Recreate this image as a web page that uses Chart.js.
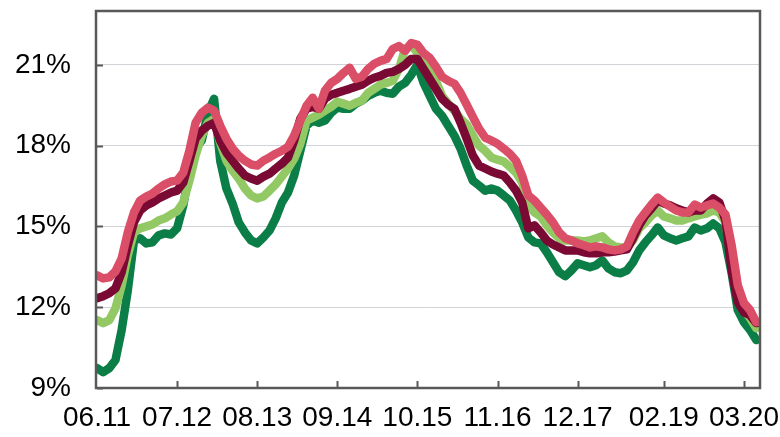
<!DOCTYPE html>
<html>
<head>
<meta charset="utf-8">
<script src="https://cdn.jsdelivr.net/npm/chart.js@4"></script>
<style>
  body { margin: 0; background: #fff; }
  #wrap { width: 780px; height: 437px; }
</style>
</head>
<body>
<div id="wrap"><canvas id="chart" width="780" height="437"></canvas></div>
<script>
// monthly points, June 2011 onwards
const months = [];
for (let i = 0; i < 108; i++) {
    const m = (5 + i) % 12 + 1;
    const y = 11 + Math.floor((5 + i) / 12);
    months.push(String(m).padStart(2, '0') + '.' + y);
}

const tickMonths = ['06.11', '07.12', '08.13', '09.14', '10.15', '11.16', '12.17', '02.19', '03.20'];
const yTicks = [9, 12, 15, 18, 21];

const pink = [
    13.19, 13.07, 13.11, 13.33, 13.81, 14.78, 15.52, 15.96, 16.11, 16.22,
    16.41, 16.56, 16.67, 16.70, 17.00, 17.81, 18.85, 19.22, 19.41, 19.30,
    18.74, 18.26, 17.89, 17.63, 17.44, 17.30, 17.26, 17.44, 17.56, 17.70,
    17.81, 17.96, 18.37, 18.93, 19.48, 19.78, 19.37, 20.04, 20.33, 20.48,
    20.70, 20.89, 20.48, 20.56, 20.85, 21.04, 21.15, 21.22, 21.59, 21.70,
    21.52, 21.81, 21.74, 21.44, 21.26, 20.93, 20.56, 20.41, 20.30, 19.96,
    19.52, 19.07, 18.63, 18.30, 18.19, 18.07, 17.89, 17.70, 17.44, 16.89,
    16.15, 15.96, 15.70, 15.44, 15.15, 14.78, 14.56, 14.48, 14.37, 14.30,
    14.22, 14.26, 14.22, 14.15, 14.11, 14.15, 14.26, 14.78, 15.22, 15.52,
    15.81, 16.07, 15.89, 15.74, 15.59, 15.52, 15.52, 15.81, 15.70, 15.78,
    15.85, 15.70, 15.44, 14.30, 12.81, 12.15, 11.89, 11.44
];

const darkRed = [
    12.33, 12.41, 12.52, 12.70, 13.30, 14.30, 15.15, 15.59, 15.78, 15.89,
    16.04, 16.15, 16.26, 16.33, 16.63, 17.44, 18.26, 18.56, 18.74, 18.85,
    18.19, 17.74, 17.44, 17.15, 16.89, 16.78, 16.70, 16.85, 16.96, 17.15,
    17.33, 17.56, 18.19, 19.00, 19.37, 19.44, 19.37, 19.74, 19.89, 19.96,
    20.04, 20.11, 20.19, 20.26, 20.41, 20.52, 20.59, 20.70, 20.74, 20.85,
    21.00, 21.22, 21.22, 20.85, 20.48, 20.11, 19.74, 19.52, 19.37, 18.85,
    18.26, 17.63, 17.26, 17.15, 17.04, 16.96, 16.89, 16.63, 16.33, 15.89,
    14.93, 15.04, 14.78, 14.48, 14.33, 14.22, 14.11, 14.11, 14.11, 14.04,
    14.00, 14.00, 14.04, 14.04, 14.07, 14.11, 14.15, 14.56, 15.04, 15.41,
    15.67, 15.96, 15.85, 15.78, 15.67, 15.59, 15.52, 15.59, 15.59, 15.85,
    16.04, 15.89, 15.22, 13.37, 12.19, 11.81, 11.70, 11.41
];

const lightGreen = [
    11.52, 11.41, 11.52, 11.96, 12.81, 13.93, 14.78, 14.93, 15.00, 15.07,
    15.22, 15.30, 15.44, 15.56, 15.89, 16.70, 17.63, 18.37, 18.85, 19.00,
    18.11, 17.44, 17.07, 16.78, 16.41, 16.15, 16.04, 16.11, 16.33, 16.56,
    16.85, 17.15, 17.52, 18.07, 18.93, 19.04, 19.15, 19.30, 19.44, 19.63,
    19.56, 19.48, 19.59, 19.67, 19.96, 20.11, 20.26, 20.33, 20.41, 20.85,
    21.59, 21.74, 21.44, 21.07, 20.78, 20.41, 19.85, 19.56, 19.30, 19.00,
    18.78, 18.37, 18.00, 17.81, 17.56, 17.48, 17.41, 17.22, 17.00, 16.63,
    15.78, 15.52, 15.37, 15.04, 14.78, 14.56, 14.48, 14.48, 14.48, 14.44,
    14.48, 14.56, 14.63, 14.41, 14.26, 14.22, 14.22, 14.48, 14.93, 15.15,
    15.41, 15.59, 15.37, 15.30, 15.22, 15.22, 15.30, 15.37, 15.44, 15.48,
    15.59, 15.52, 15.15, 13.74, 12.26, 11.89, 11.59, 11.22
];

const darkGreen = [
    9.74, 9.59, 9.74, 10.04, 11.15, 12.63, 14.48, 14.56, 14.37, 14.41,
    14.67, 14.74, 14.70, 14.93, 15.78, 17.07, 17.89, 18.19, 19.22, 19.74,
    17.44, 16.41, 15.85, 15.15, 14.78, 14.48, 14.37, 14.59, 14.85, 15.30,
    15.89, 16.26, 16.89, 17.81, 18.74, 18.93, 18.85, 18.93, 19.22, 19.41,
    19.37, 19.37, 19.56, 19.67, 19.85, 19.96, 20.04, 19.96, 19.93, 20.19,
    20.33, 20.63, 21.00, 20.33, 19.85, 19.37, 19.11, 18.74, 18.37, 17.89,
    17.26, 16.70, 16.52, 16.33, 16.41, 16.33, 16.15, 15.96, 15.59, 15.15,
    14.59, 14.41, 14.37, 14.04, 13.67, 13.30, 13.15, 13.37, 13.63, 13.56,
    13.48, 13.56, 13.74, 13.44, 13.30, 13.26, 13.37, 13.67, 14.11, 14.41,
    14.67, 14.96, 14.67, 14.56, 14.48, 14.56, 14.63, 14.96, 14.85, 14.93,
    15.11, 14.93, 14.41, 13.26, 11.89, 11.44, 11.15, 10.78
];

const toPoints = arr => arr.map((v, i) => ({ x: i, y: v }));

const series = [
    { data: pink, color: '#db4e67' },
    { data: darkRed, color: '#7a0a33' },
    { data: lightGreen, color: '#93c965' },
    { data: darkGreen, color: '#0a7e46' }
];

// frame and inward tick marks
const framePlugin = {
    id: 'frame',
    afterDraw(chart) {
        const { ctx, chartArea: a, scales } = chart;
        ctx.save();
        ctx.strokeStyle = '#595959';
        ctx.lineWidth = 2;
        tickMonths.forEach(t => {
            const i = months.indexOf(t);
            if (i <= 0) return;
            const x = Math.round(scales.x.getPixelForValue(i)) + 0.5;
            ctx.beginPath();
            ctx.moveTo(x, a.bottom);
            ctx.lineTo(x, a.bottom - 7);
            ctx.stroke();
        });
        yTicks.forEach(v => {
            const y = Math.round(scales.y.getPixelForValue(v)) + 0.5;
            ctx.beginPath();
            ctx.moveTo(a.left, y);
            ctx.lineTo(a.left + 6, y);
            ctx.stroke();
        });
        ctx.lineWidth = 2.5;
        ctx.strokeRect(a.left - 1, a.top, a.right - a.left + 1, a.bottom - a.top);
        ctx.restore();
    }
};

new Chart(document.getElementById('chart').getContext('2d'), {
    type: 'line',
    data: {
        datasets: series.map(s => ({
            data: toPoints(s.data),
            borderColor: s.color,
            backgroundColor: s.color,
            borderWidth: 8.5,
            borderJoinStyle: 'round',
            borderCapStyle: 'round',
            pointRadius: 0,
            tension: 0,
            fill: false
        }))
    },
    options: {
        responsive: false,
        animation: false,
        devicePixelRatio: 1,
        layout: { padding: { top: 11, right: 20, left: 0, bottom: 0 } },
        plugins: {
            legend: { display: false },
            tooltip: { enabled: false }
        },
        scales: {
            x: {
                type: 'linear',
                min: 0,
                max: 107.6,
                afterBuildTicks: scale => {
                    scale.ticks = tickMonths.map(t => ({ value: months.indexOf(t) }));
                },
                afterFit: scale => {
                    scale.height = 49;
                    scale.paddingLeft = 0;
                    scale.paddingRight = 0;
                },
                grid: { display: false, drawTicks: false },
                border: { display: false },
                ticks: {
                    autoSkip: false,
                    maxRotation: 0,
                    padding: 13,
                    color: '#000',
                    font: { family: 'Liberation Sans', size: 28 },
                    callback: value => months[value]
                }
            },
            y: {
                min: 9,
                max: 23,
                afterBuildTicks: scale => {
                    scale.ticks = yTicks.map(v => ({ value: v }));
                },
                afterFit: scale => {
                    scale.width = 97;
                    scale.paddingTop = 0;
                    scale.paddingBottom = 0;
                },
                grid: { color: '#d0d3d8', lineWidth: 1, drawTicks: false },
                border: { display: false },
                ticks: {
                    padding: 26,
                    color: '#000',
                    font: { family: 'Liberation Sans', size: 28 },
                    callback: value => value + '%'
                }
            }
        }
    },
    plugins: [framePlugin]
});
</script>
</body>
</html>
